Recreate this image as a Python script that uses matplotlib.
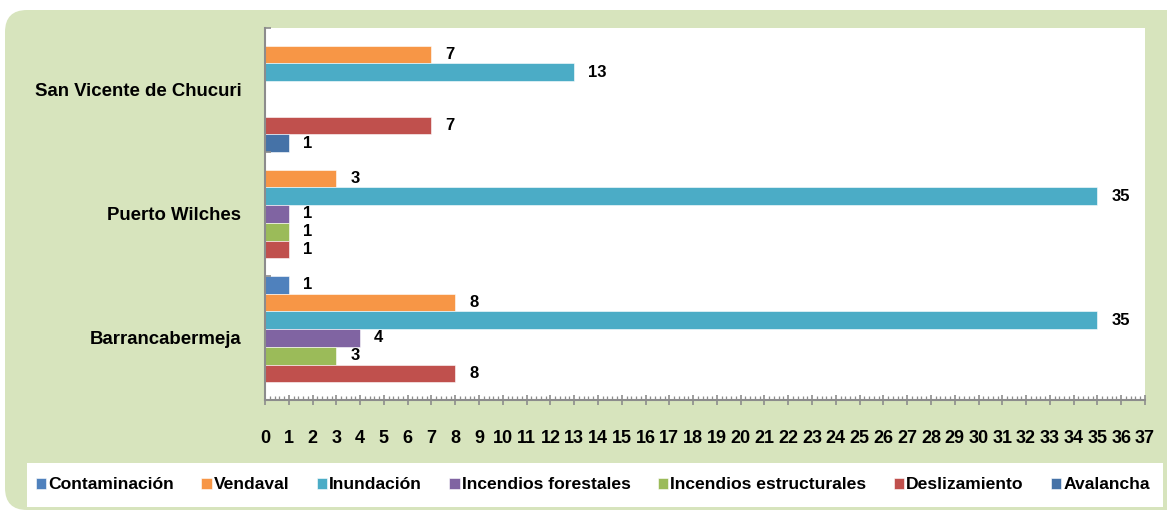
import matplotlib
matplotlib.use("Agg")
import matplotlib.pyplot as plt
from matplotlib.patches import FancyBboxPatch, Rectangle
from matplotlib.transforms import IdentityTransform
from matplotlib.ticker import MultipleLocator, FixedLocator
import numpy as np

plt.rcParams['font.family'] = ['Liberation Sans', 'DejaVu Sans']
plt.rcParams['font.weight'] = 'bold'

# datos (de abajo hacia arriba)
municipios = ['Barrancabermeja', 'Puerto Wilches', 'San Vicente de Chucuri']
contaminacion = [1, 0, 0]
vendaval = [8, 3, 7]
inundacion = [35, 35, 13]
inc_forestales = [4, 1, 0]
inc_estructurales = [3, 1, 0]
deslizamiento = [8, 1, 7]
avalancha = [0, 0, 1]

series = ['Contaminación', 'Vendaval', 'Inundación', 'Incendios forestales',
          'Incendios estructurales', 'Deslizamiento', 'Avalancha']
valores = [contaminacion, vendaval, inundacion, inc_forestales,
           inc_estructurales, deslizamiento, avalancha]
colores = ['#4F81BD', '#F79646', '#4BACC6', '#8064A2', '#9BBB59', '#C0504D', '#4572A7']

fig = plt.figure(figsize=(11.67, 5.12), dpi=100)
fig.patch.set_facecolor('white')

# fondo verde redondeado
panel = FancyBboxPatch((5 + 20, 2 + 20), 1300 - 40, 500 - 40,
                       boxstyle="round,pad=20,rounding_size=22",
                       transform=IdentityTransform(), facecolor='#D7E4BD',
                       edgecolor='none', zorder=-2)
fig.patches.append(panel)
caja_ley = Rectangle((27, 5), 1136, 44, transform=IdentityTransform(),
                     facecolor='white', edgecolor='none', zorder=-1)
fig.patches.append(caja_ley)

ax = fig.add_axes([265 / 1167, 112 / 512, 880 / 1167, 372 / 512])
ax.set_facecolor('white')

n = len(series)
h = 1.0 / n
y0 = np.arange(len(municipios))
for j, (nombre, vals, col) in enumerate(zip(series, valores, colores)):
    ys = y0 + 1 - (j + 0.5) * h
    bars = ax.barh(ys, vals, height=h, color=col, label=nombre,
                   edgecolor='white', linewidth=0.4)
    for yy, v in zip(ys, vals):
        if v > 0:
            ax.annotate(str(v), (v, yy), xytext=(10, 0), textcoords='offset points',
                        ha='left', va='center', fontsize=12, fontweight='bold')

ax.set_xlim(0, 37)
ax.set_ylim(0, 3)
ax.xaxis.set_major_locator(MultipleLocator(1))
ax.xaxis.set_minor_locator(MultipleLocator(0.2))
ax.tick_params(axis='x', which='major', direction='inout', length=7, width=1.2,
               color='#8C8C8C', labelsize=13, pad=18)
ax.tick_params(axis='x', which='minor', direction='in', length=3, width=0.9,
               color='#8C8C8C')
for t in ax.get_xticklabels():
    t.set_fontweight('bold')

ax.yaxis.set_major_locator(FixedLocator(y0 + 0.5))
ax.set_yticklabels(municipios, fontsize=13.4, fontweight='bold')
ax.yaxis.set_minor_locator(FixedLocator([0, 1, 2, 3]))
ax.tick_params(axis='y', which='major', length=0, pad=17)
ax.tick_params(axis='y', which='minor', direction='in', length=4, width=1.2,
               color='#8C8C8C')

for s in ['top', 'right']:
    ax.spines[s].set_visible(False)
for s in ['left', 'bottom']:
    ax.spines[s].set_color('#8C8C8C')
    ax.spines[s].set_linewidth(1.5)

handles, labels = ax.get_legend_handles_labels()
ley = fig.legend(handles, labels, ncol=7, loc='center', bbox_to_anchor=(0.508, 0.053),
                 frameon=False, fontsize=12.6, handlelength=0.6, handleheight=0.6,
                 handletextpad=0.12, columnspacing=1.55, borderaxespad=0)
for t in ley.get_texts():
    t.set_fontweight('bold')

fig.savefig('out.png', dpi=100, facecolor='white')
